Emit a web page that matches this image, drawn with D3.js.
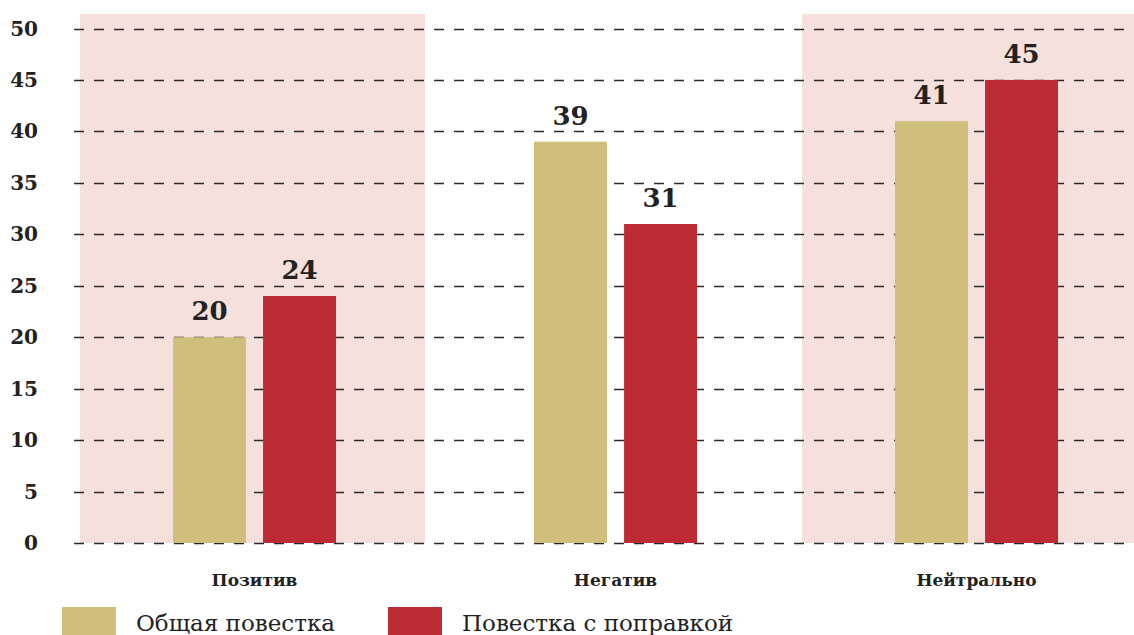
<!DOCTYPE html>
<html>
<head>
<meta charset="utf-8">
<script src="https://cdn.jsdelivr.net/npm/d3@7"></script>
<style>
  body { margin: 0; background: #fff; }
  svg { display: block; }
</style>
</head>
<body>
<div id="container"></div>
<script>
// chart data
const categories = ['Позитив', 'Негатив', 'Нейтрально'];
const seriesNames = ['Общая повестка', 'Повестка с поправкой'];
const generalValues = [20, 39, 41];
const amendedValues = [24, 31, 45];
const yTicks = [0, 5, 10, 15, 20, 25, 30, 35, 40, 45, 50];
const shadedCategories = ['Позитив', 'Нейтрально'];

const WIDTH = 1134;
const HEIGHT = 635;
const COLORS = ['#d0bf7c', '#bd2b34'];
const SHADE = '#f5e0dc';
const SERIF = '"DejaVu Serif", "Liberation Serif", serif';

const svg = d3.select('#container')
  .append('svg')
  .attr('width', WIDTH)
  .attr('height', HEIGHT)
  .style('background-color', 'white');

const x = d3.scaleBand()
  .domain(categories)
  .range([74, 1157]);

// two bars inside each category
const xInner = d3.scaleBand()
  .domain(seriesNames)
  .range([99, 262])
  .paddingInner(0.19);

const y = d3.scaleLinear()
  .domain([0, 50])
  .range([543, 28.5]);

// shaded backgrounds
svg.append('g')
  .selectAll('rect')
  .data(shadedCategories)
  .join('rect')
  .attr('x', d => x(d) + 6)
  .attr('y', 14)
  .attr('width', d => Math.min(x(d) + x.bandwidth() - 10, WIDTH) - (x(d) + 6))
  .attr('height', y(0) - 14)
  .style('fill', SHADE);

// dashed grid lines
svg.append('g')
  .selectAll('line')
  .data(yTicks)
  .join('line')
  .attr('x1', 74)
  .attr('x2', WIDTH)
  .attr('y1', d => Math.round(y(d)) + 0.5)
  .attr('y2', d => Math.round(y(d)) + 0.5)
  .style('stroke', '#2a2a2a')
  .style('stroke-width', 1.5)
  .style('stroke-dasharray', '10,10');

// y tick labels
svg.append('g')
  .selectAll('text')
  .data(yTicks)
  .join('text')
  .attr('x', 38)
  .attr('y', d => y(d) + 7)
  .attr('text-anchor', 'end')
  .style('font-family', SERIF)
  .style('font-weight', 'bold')
  .style('font-size', '20px')
  .style('fill', '#222')
  .text(d => d);

// bars
const rows = categories.map((c, i) => ({
  category: c,
  values: [generalValues[i], amendedValues[i]]
}));

const groups = svg.append('g')
  .selectAll('g')
  .data(rows)
  .join('g')
  .attr('transform', d => `translate(${x(d.category)},0)`);

const bars = groups.selectAll('g')
  .data(d => d.values.map((v, j) => ({ series: seriesNames[j], value: v, idx: j })))
  .join('g');

bars.append('rect')
  .attr('x', d => xInner(d.series))
  .attr('y', d => y(d.value))
  .attr('width', xInner.bandwidth())
  .attr('height', d => y(0) - y(d.value))
  .style('fill', d => COLORS[d.idx]);

bars.append('text')
  .attr('x', d => xInner(d.series) + xInner.bandwidth() / 2)
  .attr('y', d => y(d.value) - 17)
  .attr('text-anchor', 'middle')
  .style('font-family', SERIF)
  .style('font-weight', 'bold')
  .style('font-size', '26px')
  .style('fill', '#222')
  .text(d => d.value);

// category labels
svg.append('g')
  .selectAll('text')
  .data(categories)
  .join('text')
  .attr('x', d => x(d) + (xInner.range()[0] + xInner.range()[1]) / 2)
  .attr('y', 586)
  .attr('text-anchor', 'middle')
  .style('font-family', SERIF)
  .style('font-weight', 'bold')
  .style('font-size', '17px')
  .style('fill', '#222')
  .text(d => d);

// legend
const legendX = [62, 388];
const legend = svg.append('g')
  .selectAll('g')
  .data(seriesNames)
  .join('g')
  .attr('transform', (d, i) => `translate(${legendX[i]},607)`);

legend.append('rect')
  .attr('width', 54)
  .attr('height', 28)
  .style('fill', (d, i) => COLORS[i]);

legend.append('text')
  .attr('x', 74)
  .attr('y', 24)
  .style('font-family', SERIF)
  .style('font-size', '23px')
  .style('fill', '#222')
  .text(d => d);
</script>
</body>
</html>
